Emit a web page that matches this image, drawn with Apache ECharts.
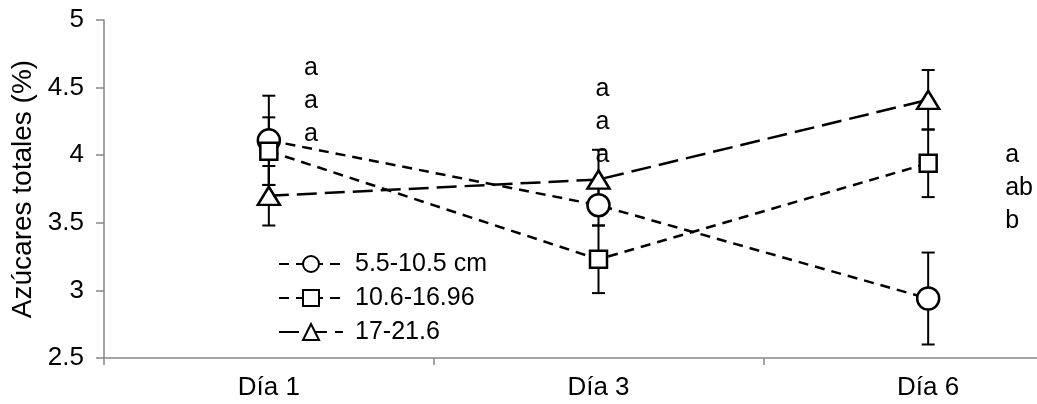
<!DOCTYPE html>
<html>
<head>
<meta charset="utf-8">
<script src="https://cdn.jsdelivr.net/npm/echarts@6/dist/echarts.min.js"></script>
<style>
html,body{margin:0;padding:0;background:#fff;overflow:hidden;width:1037px;height:404px;}
#chart{width:1093px;height:404px;}
</style>
</head>
<body>
<div id="chart"></div>
<script>
// ---- data ----
const days = ['Día 1', 'Día 3', 'Día 6'];
const seriesNames = ['5.5-10.5 cm', '10.6-16.96', '17-21.6'];
const meanSmall = [4.11, 3.63, 2.94];
const errSmall = [0.33, 0.15, 0.34];
const meanMid = [4.03, 3.23, 3.94];
const errMid = [0.25, 0.25, 0.25];
const meanLarge = [3.70, 3.82, 4.41];
const errLarge = [0.22, 0.22, 0.22];
const lettersDia1 = ['a', 'a', 'a'];
const lettersDia3 = ['a', 'a', 'a'];
const lettersDia6 = ['a', 'ab', 'b'];
const yTicks = { min: 2.5, max: 5, interval: 0.5 };

// ---- layout/style (not data) ----
const FONT = 'Liberation Sans, Arial, sans-serif';
const letterTop = [4.645, 4.49, 4.0];   // anchor of first letter row per day (axis units)
const letterDx = [42, 4, 77];
const letterAlign = ['center', 'center', 'left'];
const letterRowGap = 33;

const letterGroups = [lettersDia1, lettersDia3, lettersDia6];
const letterFlat = [];
letterGroups.forEach((g, d) => g.forEach((t, r) => letterFlat.push({ d, r, t })));

function errData(means, errs) {
  return means.map((m, i) => [i, m - errs[i], m + errs[i]]);
}

function renderErr(params, api) {
  const x = api.value(0), lo = api.value(1), hi = api.value(2);
  const p1 = api.coord([x, hi]), p2 = api.coord([x, lo]);
  const w = 6.5;
  const st = { stroke: '#000', lineWidth: 2 };
  return {
    type: 'group',
    children: [
      { type: 'line', shape: { x1: p1[0], y1: p1[1], x2: p2[0], y2: p2[1] }, style: st },
      { type: 'line', shape: { x1: p1[0] - w, y1: p1[1], x2: p1[0] + w, y2: p1[1] }, style: st },
      { type: 'line', shape: { x1: p2[0] - w, y1: p2[1], x2: p2[0] + w, y2: p2[1] }, style: st }
    ]
  };
}

function renderLetter(params, api) {
  const it = letterFlat[params.dataIndex];
  const p = api.coord([it.d, letterTop[it.d]]);
  return {
    type: 'text',
    x: p[0] + letterDx[it.d],
    y: p[1] + it.r * letterRowGap,
    style: { text: it.t, font: '25px ' + FONT, fill: '#000', align: letterAlign[it.d], verticalAlign: 'middle' }
  };
}

function lineSeries(name, data, symbol, size, dash) {
  return {
    name, type: 'line', data, symbol, symbolSize: size, z: 3,
    lineStyle: { color: '#000', width: 2.5, type: dash },
    itemStyle: { color: '#fff', borderColor: '#000', borderWidth: 2.5 },
    emphasis: { disabled: true },
    animation: false
  };
}

const chart = echarts.init(document.getElementById('chart'));
chart.setOption({
  animation: false,
  backgroundColor: '#fff',
  grid: { left: 104, right: 0, top: 20, bottom: 46, containLabel: false },
  legend: {
    orient: 'vertical', left: 278, top: 251, padding: 0,
    itemWidth: 64, itemHeight: 20, itemGap: 8,
    data: seriesNames,
    textStyle: { fontFamily: FONT, fontSize: 25, color: '#000', lineHeight: 26, padding: [0, 0, 0, 7] }
  },
  xAxis: {
    type: 'category', data: days, boundaryGap: true,
    axisLine: { lineStyle: { color: '#868686', width: 1.5 } },
    axisTick: { show: true, length: 7, lineStyle: { color: '#868686', width: 1.5 } },
    axisLabel: { fontFamily: FONT, fontSize: 26, color: '#000', margin: 17 }
  },
  yAxis: {
    type: 'value', min: yTicks.min, max: yTicks.max, interval: yTicks.interval,
    name: 'Azúcares totales (%)', nameLocation: 'middle', nameGap: 66,
    nameTextStyle: { fontFamily: FONT, fontSize: 28, color: '#000' },
    axisLine: { show: true, lineStyle: { color: '#868686', width: 1.5 } },
    axisTick: { show: true, length: 8, lineStyle: { color: '#868686', width: 1.5 } },
    splitLine: { show: false },
    axisLabel: { fontFamily: FONT, fontSize: 26, color: '#000', margin: 20 }
  },
  series: [
    { type: 'custom', renderItem: renderErr, data: errData(meanSmall, errSmall), encode: { x: 0, y: [1, 2] }, z: 1, silent: true },
    { type: 'custom', renderItem: renderErr, data: errData(meanMid, errMid), encode: { x: 0, y: [1, 2] }, z: 1, silent: true },
    { type: 'custom', renderItem: renderErr, data: errData(meanLarge, errLarge), encode: { x: 0, y: [1, 2] }, z: 1, silent: true },
    lineSeries(seriesNames[0], meanSmall, 'circle', 22, [10, 7]),
    lineSeries(seriesNames[1], meanMid, 'rect', 17, [10, 7]),
    lineSeries(seriesNames[2], meanLarge, 'triangle', [22, 18], [20, 8]),
    { type: 'custom', renderItem: renderLetter, data: letterFlat.map(it => [it.d, letterTop[it.d]]), encode: { x: 0, y: 1 }, z: 4, silent: true, clip: false }
  ]
});
</script>
</body>
</html>
